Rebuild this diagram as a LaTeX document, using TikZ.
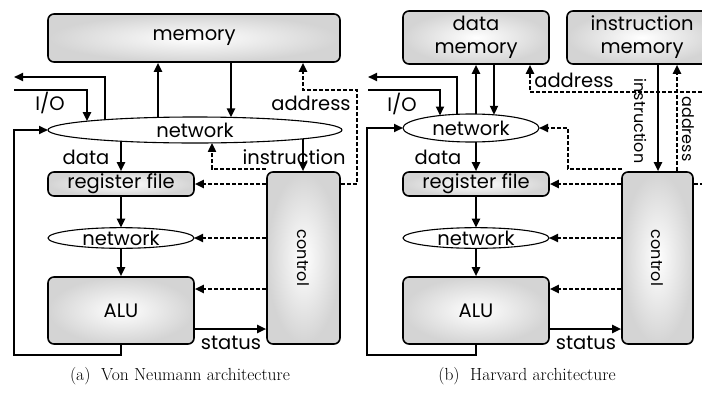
\documentclass[tikz,border=0pt]{standalone}
\usepackage{fontspec}
\usetikzlibrary{arrows.meta,shapes.geometric}
\newfontfamily\diagfont{Poppins}
\begin{document}
\begin{tikzpicture}[x=1pt,y=-1pt,
  txt/.style={font=\diagfont\fontsize{19.5}{23}\selectfont},
  vtxt/.style={font=\diagfont\fontsize{16}{19}\selectfont},
  box/.style={draw, line width=1.6pt, rounded corners=6pt, inner color=white,
    outer color=black!17, txt, align=center, inner sep=0pt},
  net/.style={ellipse, draw, line width=1.1pt, fill=white, inner sep=0pt,
    outer sep=0pt, txt},
  link/.style={line width=2pt, -{Triangle[length=9pt,width=8pt]}},
  ctl/.style={link, dash pattern=on 4pt off 2pt},
  lbl/.style={txt, inner sep=0pt},
  vlbl/.style={vtxt, inner sep=0pt, rotate=-90},
  captxt/.style={font=\fontsize{17.5}{20}\selectfont, inner sep=0pt}]
\useasboundingbox (0,0) rectangle (702,394);
\clip (0,0) rectangle (702,394);

% ---------------- (a) Von Neumann ----------------
\node[box, minimum width=292pt, minimum height=48pt] (memA) at (194,38) {memory};
\node[net, minimum width=294pt, minimum height=26pt] (net1A) at (195,130) {network};
\node[box, minimum width=146pt, minimum height=24pt] (regA) at (121,184) {register file};
\node[net, minimum width=146pt, minimum height=20pt] (net2A) at (121,238) {network};
\node[box, minimum width=146pt, minimum height=67pt] (aluA) at (121,310.5) {ALU};
\node[box, minimum width=73pt, minimum height=172pt] (ctrlA) at (303.5,258) {};
\node[vlbl] at (ctrlA.center) {control};

\coordinate (aOut) at (105,119.7);   \coordinate (aOutEnd) at (14,77);
\coordinate (aIn) at (14,90);        \coordinate (aInEnd) at (87,121.2);
\coordinate (aUp) at (158,117.4);    \coordinate (aDown) at (231,117.4);
\coordinate (aAddrR) at (357,184);   \coordinate (aAddrL) at (303,90);
\coordinate (aFb) at (14,355);
\coordinate (aData) at (121,141.3);  \coordinate (aInstr) at (303,138.8);
\coordinate (aCtlUp) at (212,142.9);

\draw[link] (aOut) |- (aOutEnd);
\draw[link] (aIn) -| (aInEnd);
\draw[link] (aUp) -- (aUp |- memA.south);
\draw[link] (aDown |- memA.south) -- (aDown);
\draw[ctl] (regA -| ctrlA.east) -- (aAddrR) |- (aAddrL) -- (aAddrL |- memA.south);
\draw[link] (aluA.south) |- (aFb) |- (net1A.west);
\draw[link] (aData) -- (regA.north);
\draw[link] (aInstr) -- (aInstr |- ctrlA.north);
\draw[ctl] ([yshift=2pt]ctrlA.north west) -| (aCtlUp);
\draw[ctl] (regA -| ctrlA.west) -- (regA.east);
\draw[ctl] (net2A -| ctrlA.west) -- (net2A.east);
\draw[ctl] (ctrlA.west |- 0,289) -- (aluA.east |- 0,289);
\draw[link] (aluA.east |- 0,329) -- (ctrlA.west |- 0,329);
\draw[link] (regA.south) -- (net2A.north);
\draw[link] (net2A.south) -- (aluA.north);

\node[lbl] at (50,103) {I/O};
\node[lbl] at (311,103) {address};
\node[lbl] at (86,157) {data};
\node[lbl] at (294,157) {instruction};
\node[lbl] at (231,343) {status};

% ---------------- (b) Harvard ----------------
\node[box, minimum width=146pt, minimum height=53pt] (dmem) at (476,37.5) {data\\memory};
\node[box, minimum width=150pt, minimum height=53pt] (imem) at (642,37.5) {instruction\\memory};
\node[net, minimum width=136pt, minimum height=28pt] (net1B) at (471,128) {network};
\node[box, minimum width=146pt, minimum height=24pt] (regB) at (476,184) {register file};
\node[net, minimum width=146pt, minimum height=20pt] (net2B) at (476,238) {network};
\node[box, minimum width=146pt, minimum height=67pt] (aluB) at (476,310.5) {ALU};
\node[box, minimum width=71pt, minimum height=172pt] (ctrlB) at (657.5,258) {};
\node[vlbl] at (ctrlB.center) {control};

\coordinate (bOut) at (457,114.3);   \coordinate (bOutEnd) at (368,77);
\coordinate (bIn) at (368,90);       \coordinate (bInEnd) at (440,115.5);
\coordinate (bUp) at (476,114.0);    \coordinate (bDown) at (494,114.8);
\coordinate (bAddrR) at (712,184);   \coordinate (bAddrL) at (530,92);
\coordinate (bFb) at (367,355);
\coordinate (bData) at (476,142);
\coordinate (bInstr) at (658,0);     \coordinate (bIAddr) at (677,0);
\coordinate (bCtl) at (622,169);     \coordinate (bCtlUp) at (568,128);

\draw[link] (bOut) |- (bOutEnd);
\draw[link] (bIn) -| (bInEnd);
\draw[link] (bUp) -- (bUp |- dmem.south);
\draw[link] (bDown |- dmem.south) -- (bDown);
\draw[ctl] (regB -| ctrlB.east) -- (bAddrR) |- (bAddrL) -- (bAddrL |- dmem.south);
\draw[link] (aluB.south) |- (bFb) |- (net1B.west);
\draw[link] (bData) -- (regB.north);
\draw[link] (bInstr |- imem.south) -- (bInstr |- ctrlB.north);
\draw[ctl] (bIAddr |- ctrlB.north) -- (bIAddr |- imem.south);
\draw[ctl] (bCtl) -| (bCtlUp) -- (net1B.east);
\draw[ctl] (regB -| ctrlB.west) -- (regB.east);
\draw[ctl] (net2B -| ctrlB.west) -- (net2B.east);
\draw[ctl] (ctrlB.west |- 0,289) -- (aluB.east |- 0,289);
\draw[link] (aluB.east |- 0,329) -- (ctrlB.west |- 0,329);
\draw[link] (regB.south) -- (net2B.north);
\draw[link] (net2B.south) -- (aluB.north);

\node[lbl] at (402,104) {I/O};
\node[lbl] at (574,80) {address};
\node[lbl] at (438,157) {data};
\node[vlbl] at (641,121) {instruction};
\node[vlbl] at (688,129) {address};
\node[lbl] at (586,343) {status};

% ---------------- captions ----------------
\node[captxt] at (180,376) {(a)\ \ Von Neumann architecture};
\node[captxt] at (527,376) {(b)\ \ Harvard architecture};
\end{tikzpicture}
\end{document}
